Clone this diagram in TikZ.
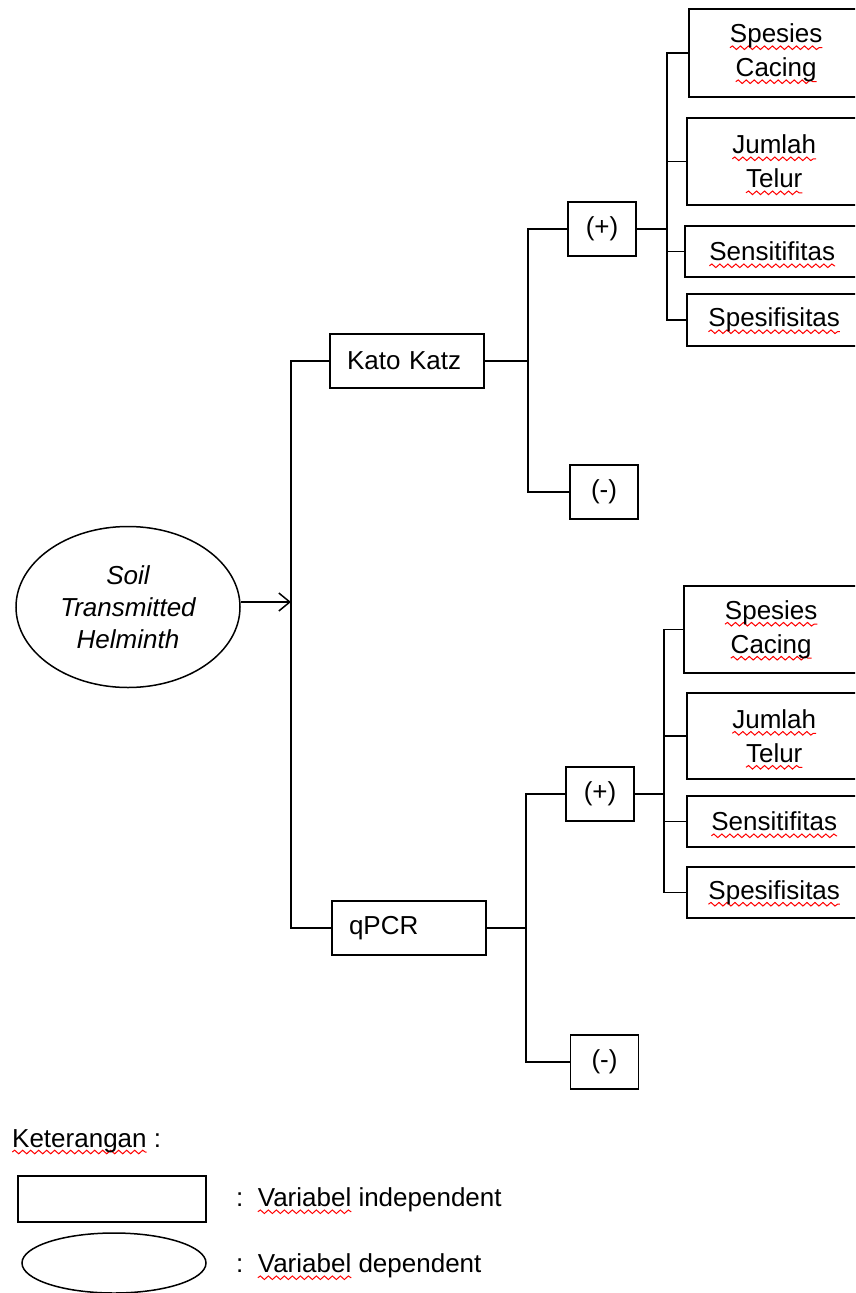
\documentclass[tikz,border=0pt]{standalone}
\usepackage{fontspec}
\setmainfont{Liberation Sans}
\usepackage{xcolor}
\usetikzlibrary{shapes,arrows.meta,decorations.pathmorphing}
\newsavebox\spellbox
\newcommand\spell[1]{\sbox\spellbox{#1}\rlap{\tikz[overlay,x=1pt,y=1pt,baseline=0pt]\draw[red,line width=1pt,
  decorate,decoration={snake,amplitude=1.8pt,segment length=8pt}] (0,-5) -- (\wd\spellbox,-5);}#1}

\begin{document}
\begin{tikzpicture}[x=1pt,y=-1pt,line width=1.5pt,>={Straight Barb[length=11pt,width=18pt]},
  font=\fontsize{26}{34}\selectfont,
  meth/.style={draw,minimum height=54pt,text width=120pt,inner xsep=17pt,inner ysep=0pt,align=left},
  sign/.style={draw,minimum width=68pt,minimum height=54pt,inner sep=0pt},
  res/.style={draw,anchor=west,minimum width=174pt,inner sep=0pt,align=center}]
\useasboundingbox (0,0) rectangle (855,1293);
\clip (0,0) rectangle (855,1293);

\node[draw,ellipse,minimum width=224pt,minimum height=161pt,inner sep=0pt,align=center,
  font=\fontsize{26}{32}\selectfont\itshape] (sth) at (128,607) {Soil\\Transmitted\\Helminth};

\node[meth] (kk) at (407,361) {Kato Katz};
\node[meth] (pcr) at (409,928) {qPCR};

\node[sign] (kkp) at (602,229) {(+)};
\node[sign] (kkn) at (604,492) {(-)};
\node[sign] (pcrp) at (600,794) {(+)};
\node[sign] (pcrn) at (604.5,1062) {(-)};

\node[res,minimum height=88pt] (ka) at (689,53) {\spell{Spesies}\\\spell{Cacing}};
\node[res,minimum height=87pt] (kb) at (687,161.5) {\spell{Jumlah}\\\spell{Telur}};
\node[res,minimum height=51pt] (kc) at (685,251.5) {\spell{Sensitifitas}};
\node[res,minimum height=52pt] (kd) at (687,320) {\spell{Spesifisitas}};

\node[res,minimum height=87pt] (pa) at (684,629.5) {\spell{Spesies}\\\spell{Cacing}};
\node[res,minimum height=86pt] (pb) at (687,736) {\spell{Jumlah}\\\spell{Telur}};
\node[res,minimum height=51pt] (pc) at (687,821.5) {\spell{Sensitifitas}};
\node[res,minimum height=51pt] (pd) at (687,892.5) {\spell{Spesifisitas}};

\coordinate (j0) at (291,602);
\coordinate (j1) at (528,361);
\coordinate (j2) at (667,229);
\coordinate (j3) at (526,928);
\coordinate (j4) at (664,794);

\draw (kk.west) -| (j0) |- (pcr.west);
\draw[->] (sth.east |- j0) -- (j0);

\draw (kk.east) -- (j1);
\draw (kkp.west) -| (j1) |- (kkn.west);
\draw (kkp.east) -- (j2);
\draw (ka.west) -| (j2) |- (kd.west);
\draw (kb.west) -- (kb.west -| j2);
\draw (kc.west) -- (kc.west -| j2);

\draw (pcr.east) -- (j3);
\draw (pcrp.west) -| (j3) |- (pcrn.west);
\draw (pcrp.east) -- (j4);
\draw (pa.west) -| (j4) |- (pd.west);
\draw (pb.west) -- (pb.west -| j4);
\draw (pc.west) -- (pc.west -| j4);

\node[anchor=base west,inner sep=0pt] (ket) at (12,1147) {\spell{Keterangan} :};
\node[draw,minimum width=188pt,minimum height=46pt,inner sep=0pt] (lrect) at (112,1199) {};
\node[draw,ellipse,minimum width=184pt,minimum height=60pt,inner sep=0pt] (lell) at (114,1263) {};
\node[anchor=west,inner sep=0pt] (lind) at (236,1200) {:\ \ \spell{Variabel} independent};
\node[anchor=west,inner sep=0pt] (ldep) at (236,1266) {:\ \ \spell{Variabel} dependent};
\end{tikzpicture}
\end{document}
